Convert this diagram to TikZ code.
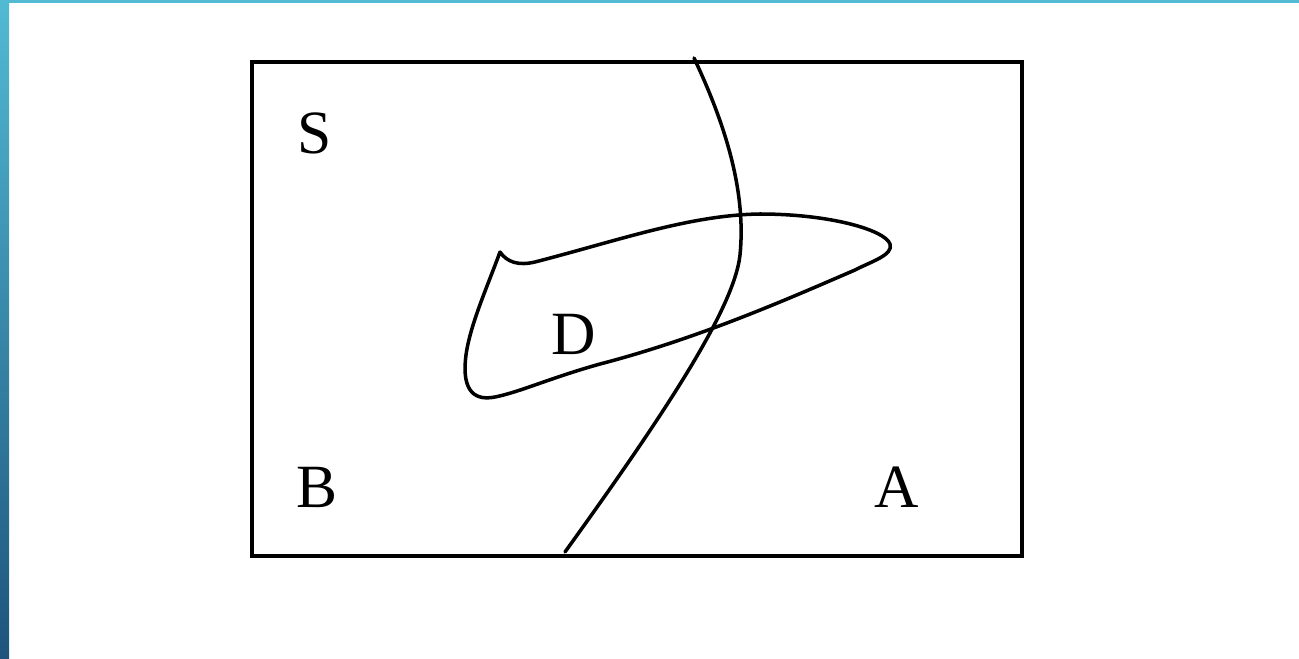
\documentclass[tikz,border=0pt]{standalone}
\usepackage{fontspec}
\setmainfont{Liberation Serif}
\usetikzlibrary{positioning}
\definecolor{barlight}{RGB}{82,186,211}
\definecolor{bardark}{RGB}{30,84,124}

\begin{document}
\begin{tikzpicture}[x=0.02cm,y=-0.02cm]
\tikzset{
  region/.style={font=\fontsize{35}{35}\selectfont,inner sep=0pt},
  curve/.style={line width=2pt,line join=round,line cap=round}
}
\useasboundingbox (0,0) rectangle (1299,659);
% slide border
\fill[barlight] (0,0) rectangle (1299,3);
\shade[top color=barlight,bottom color=bardark] (0,0) rectangle (9,659);

% sample space
\draw[line width=2.4pt] (252,62) rectangle (1022,556);

\node[region] (s) at (315,133) {S};
\node[region] (b) at (317,487) {B};
\node[region] (a) at (897,487) {A};
\node[region] (d) at (574,334) {D};

% boundary between A and B
\draw[curve] (694,58) .. controls (728,130) and (746,195) .. (740,255)
  .. controls (734,310) and (660,420) .. (565,552);

% event D
\draw[curve] (500,252) .. controls (507,262) and (518,266) .. (535,262)
  .. controls (620,240) and (690,215) .. (760,214)
  .. controls (830,214) and (885,230) .. (890,244)
  .. controls (894,255) and (870,262) .. (855,270)
  .. controls (790,298) and (700,338) .. (600,364)
  .. controls (550,378) and (520,392) .. (495,397)
  .. controls (470,402) and (462,385) .. (466,355)
  .. controls (470,325) and (488,285) .. (500,252);
\end{tikzpicture}
\end{document}
